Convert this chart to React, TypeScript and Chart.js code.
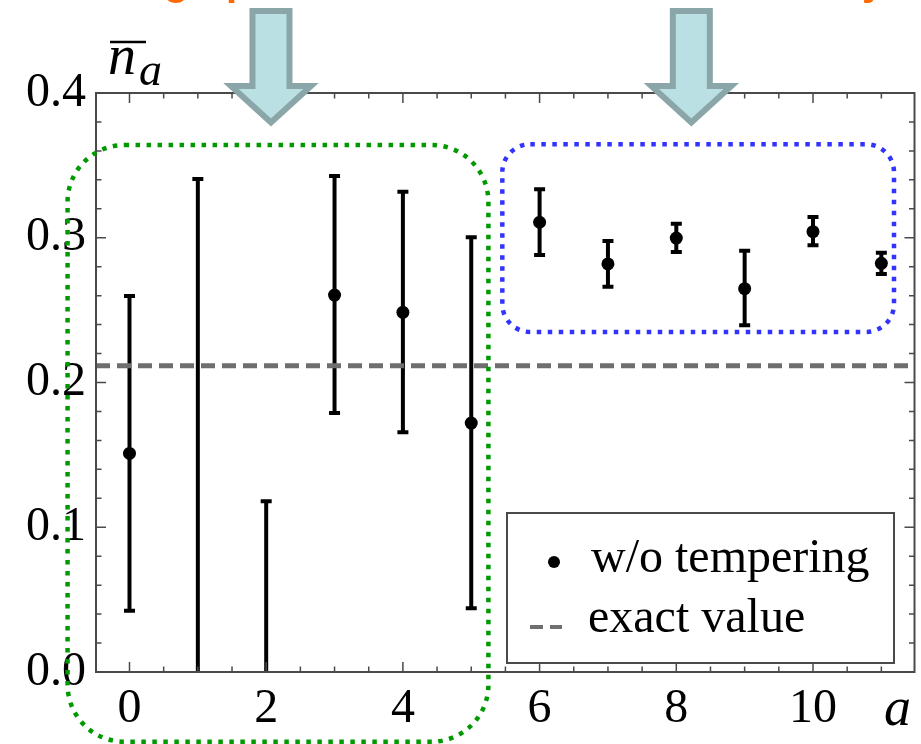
import React, { useEffect, useRef } from "react";
import { Chart, registerables } from "chart.js";

Chart.register(...registerables);

// ---- data ----
const aValues = [0, 1, 2, 3, 4, 5, 6, 7, 8, 9, 10, 11];
const nMean = [0.151, -0.03, -0.05, 0.2604, 0.2485, 0.172, 0.3107, 0.2819, 0.2998, 0.2648, 0.3042, 0.2823];
const errLow = [0.0424, -0.4, -0.218, 0.179, 0.1656, 0.044, 0.2881, 0.2662, 0.2902, 0.2395, 0.2948, 0.275];
const errHigh = [0.2598, 0.3406, 0.118, 0.3426, 0.3318, 0.3003, 0.3335, 0.2978, 0.3097, 0.291, 0.3143, 0.2897];
const exactValue = 0.2116;
const xTickValues = [0, 2, 4, 6, 8, 10];
const yTickValues = [0, 0.1, 0.2, 0.3, 0.4];
const legendLabels = ["w/o tempering", "exact value"];
const seriesLabel = "w/o tempering";
const exactLabel = "exact value";
const xAxisTitle = "a";
const yAxisTitleMain = "n";
const yAxisTitleSub = "a";
// highlighted regions in data units: [xMin, xMax, yMin, yMax]
const greenRegion = [-0.906, 5.251, -0.0482, 0.3641];
const blueRegion = [5.4545, 11.185, 0.2349, 0.3646];
const arrowCenters = [2.07, 8.22];

const X_MIN = -0.49;
const X_MAX = 11.485;

function roundRectPath(ctx: CanvasRenderingContext2D, x0: number, y0: number, x1: number, y1: number, r: number) {
  ctx.beginPath();
  ctx.moveTo(x0 + r, y0);
  ctx.lineTo(x1 - r, y0);
  ctx.arcTo(x1, y0, x1, y0 + r, r);
  ctx.lineTo(x1, y1 - r);
  ctx.arcTo(x1, y1, x1 - r, y1, r);
  ctx.lineTo(x0 + r, y1);
  ctx.arcTo(x0, y1, x0, y1 - r, r);
  ctx.lineTo(x0, y0 + r);
  ctx.arcTo(x0, y0, x0 + r, y0, r);
  ctx.closePath();
}

const decorPlugin = {
  id: "decor",
  beforeDatasetsDraw(chart: any) {
    const { ctx, chartArea: ca, scales } = chart;
    const xs = scales.x;
    const ys = scales.y;
    ctx.save();
    ctx.beginPath();
    ctx.rect(ca.left, ca.top, ca.right - ca.left, ca.bottom - ca.top);
    ctx.clip();
    ctx.strokeStyle = "#000";
    ctx.lineWidth = 4;
    ctx.lineCap = "butt";
    for (let i = 0; i < aValues.length; i++) {
      const px = xs.getPixelForValue(aValues[i]);
      const lo = ys.getPixelForValue(errLow[i]);
      const hi = ys.getPixelForValue(errHigh[i]);
      ctx.beginPath();
      ctx.moveTo(px, lo);
      ctx.lineTo(px, hi);
      ctx.moveTo(px - 5.5, lo);
      ctx.lineTo(px + 5.5, lo);
      ctx.moveTo(px - 5.5, hi);
      ctx.lineTo(px + 5.5, hi);
      ctx.stroke();
    }
    ctx.restore();
  },
  afterDraw(chart: any) {
    const { ctx, chartArea: ca, scales } = chart;
    const xs = scales.x;
    const ys = scales.y;
    ctx.save();
    // frame
    ctx.strokeStyle = "#4a4a4a";
    ctx.lineWidth = 2;
    ctx.strokeRect(ca.left, ca.top, ca.right - ca.left, ca.bottom - ca.top);
    // ticks (inward, all four sides)
    ctx.lineWidth = 1.5;
    ctx.beginPath();
    for (let k = 0; k <= 22; k++) {
      const v = k * 0.5;
      const major = k % 4 === 0;
      const len = major ? 10 : 5.5;
      const px = xs.getPixelForValue(v);
      ctx.moveTo(px, ca.bottom);
      ctx.lineTo(px, ca.bottom - len);
      ctx.moveTo(px, ca.top);
      ctx.lineTo(px, ca.top + len);
    }
    for (let k = 0; k <= 20; k++) {
      const v = k * 0.02;
      const major = k % 5 === 0;
      const len = major ? 10 : 5.5;
      const py = ys.getPixelForValue(v);
      ctx.moveTo(ca.left, py);
      ctx.lineTo(ca.left + len, py);
      ctx.moveTo(ca.right, py);
      ctx.lineTo(ca.right - len, py);
    }
    ctx.stroke();

    // legend
    const lx0 = 507, ly0 = 513, lx1 = 894, ly1 = 663;
    ctx.fillStyle = "#fff";
    ctx.fillRect(lx0, ly0, lx1 - lx0, ly1 - ly0);
    ctx.strokeStyle = "#4a4a4a";
    ctx.lineWidth = 2;
    ctx.strokeRect(lx0, ly0, lx1 - lx0, ly1 - ly0);
    ctx.fillStyle = "#000";
    ctx.beginPath();
    ctx.arc(554, 562, 6, 0, Math.PI * 2);
    ctx.fill();
    ctx.strokeStyle = "#707070";
    ctx.lineWidth = 4;
    ctx.beginPath();
    ctx.moveTo(530, 627);
    ctx.lineTo(543, 627);
    ctx.moveTo(550, 627);
    ctx.lineTo(562, 627);
    ctx.stroke();
    ctx.fillStyle = "#000";
    ctx.font = "48px 'Liberation Serif'";
    ctx.textBaseline = "alphabetic";
    ctx.textAlign = "left";
    ctx.fillText(legendLabels[0], 591, 572);
    ctx.fillText(legendLabels[1], 588, 632);

    // axis titles
    ctx.font = "italic 56px 'Liberation Serif'";
    ctx.fillText(yAxisTitleMain, 108, 74);
    ctx.font = "italic 46px 'Liberation Serif'";
    ctx.fillText(yAxisTitleSub, 139, 85);
    ctx.strokeStyle = "#000";
    ctx.lineWidth = 2.5;
    ctx.beginPath();
    ctx.moveTo(110, 42);
    ctx.lineTo(146, 42);
    ctx.stroke();
    ctx.font = "italic 54px 'Liberation Serif'";
    ctx.fillText(xAxisTitle, 884, 725);

    // dotted rounded regions
    ctx.lineWidth = 4.5;
    ctx.setLineDash([4.5, 6.5]);
    ctx.lineCap = "butt";
    const g = greenRegion;
    ctx.strokeStyle = "#009a00";
    roundRectPath(ctx, xs.getPixelForValue(g[0]), ys.getPixelForValue(g[3]), xs.getPixelForValue(g[1]), ys.getPixelForValue(g[2]), 57);
    ctx.stroke();
    const b = blueRegion;
    ctx.strokeStyle = "#3333ff";
    roundRectPath(ctx, xs.getPixelForValue(b[0]), ys.getPixelForValue(b[3]), xs.getPixelForValue(b[1]), ys.getPixelForValue(b[2]), 28);
    ctx.stroke();
    ctx.setLineDash([]);

    // arrows
    for (const ac of arrowCenters) {
      const cx = xs.getPixelForValue(ac);
      ctx.beginPath();
      ctx.moveTo(cx - 18.5, 11);
      ctx.lineTo(cx + 18.5, 11);
      ctx.lineTo(cx + 18.5, 86);
      ctx.lineTo(cx + 40, 86);
      ctx.lineTo(cx, 122.5);
      ctx.lineTo(cx - 40, 86);
      ctx.lineTo(cx - 18.5, 86);
      ctx.closePath();
      ctx.fillStyle = "#bae0e3";
      ctx.fill();
      ctx.strokeStyle = "#8ba6a8";
      ctx.lineWidth = 6;
      ctx.lineJoin = "miter";
      ctx.stroke();
    }

    // cut-off orange title (only descenders visible)
    ctx.fillStyle = "#ff6a00";
    ctx.font = "bold 40px 'Liberation Sans'";
    ctx.textBaseline = "alphabetic";
    ctx.fillText("g", 164, -5.5);
    ctx.fillText("p", 226, -5.5);
    ctx.fillText("y", 862, -5.5);
    ctx.restore();
  },
};

export default function App() {
  const canvasRef = useRef<HTMLCanvasElement | null>(null);

  useEffect(() => {
    const canvas = canvasRef.current;
    if (!canvas) return;
    const chart = new Chart(canvas, {
      type: "scatter",
      data: {
        datasets: [
          {
            label: seriesLabel,
            data: aValues.map((a, i) => ({ x: a, y: nMean[i] })),
            pointRadius: 6.5,
            pointHoverRadius: 6.5,
            backgroundColor: "#000",
            borderWidth: 0,
            showLine: false,
            order: 0,
          },
          {
            type: "line",
            label: exactLabel,
            data: [
              { x: X_MIN, y: exactValue },
              { x: X_MAX, y: exactValue },
            ],
            borderColor: "#6e6e6e",
            borderWidth: 5,
            borderDash: [14, 7],
            pointRadius: 0,
            showLine: true,
            fill: false,
            order: 1,
          } as any,
        ],
      },
      options: {
        animation: false,
        responsive: false,
        maintainAspectRatio: false,
        layout: { padding: { top: 93, right: 3, left: 0, bottom: 0 } },
        plugins: { legend: { display: false }, tooltip: { enabled: false } },
        scales: {
          x: {
            type: "linear",
            min: X_MIN,
            max: X_MAX,
            grid: { display: false, drawTicks: false },
            border: { display: false },
            afterBuildTicks: (s: any) => {
              s.ticks = xTickValues.map((v) => ({ value: v }));
            },
            afterFit: (s: any) => {
              s.height = 72;
            },
            ticks: {
              autoSkip: false,
              maxRotation: 0,
              padding: 9,
              color: "#000",
              font: { family: "'Liberation Serif'", size: 48 },
              callback: (v: any) => String(v),
            },
          },
          y: {
            type: "linear",
            min: 0,
            max: 0.4,
            grid: { display: false, drawTicks: false },
            border: { display: false },
            afterBuildTicks: (s: any) => {
              s.ticks = yTickValues.map((v) => ({ value: v }));
            },
            afterFit: (s: any) => {
              s.width = 96;
            },
            ticks: {
              autoSkip: false,
              padding: 10,
              color: "#000",
              font: { family: "'Liberation Serif'", size: 48 },
              callback: (v: any) => Number(v).toFixed(1),
            },
          },
        },
      },
      plugins: [decorPlugin],
    });
    return () => chart.destroy();
  }, []);

  return (
    <div style={{ position: "absolute", left: 0, top: 0, width: 921, height: 744, background: "#fff" }}>
      <canvas ref={canvasRef} width={921} height={744} style={{ display: "block" }} />
    </div>
  );
}
